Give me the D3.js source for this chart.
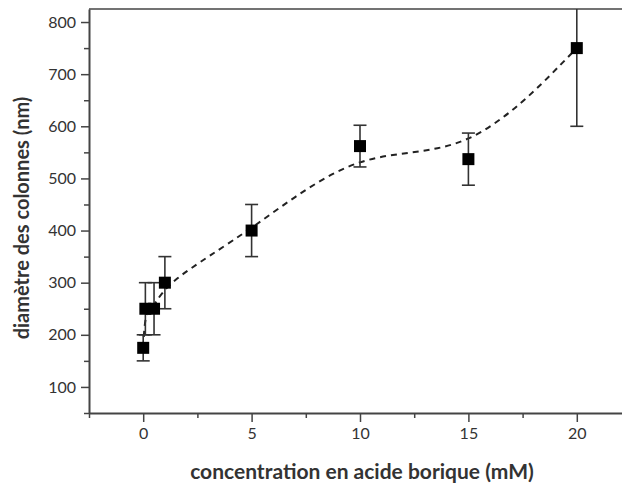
<!DOCTYPE html>
<html>
<head>
<meta charset="utf-8">
<script src="https://cdn.jsdelivr.net/npm/d3@7"></script>
<style>
  body { margin: 0; background: #fff; }
  text { font-family: Lato, "Open Sans", sans-serif; fill: #333; }
</style>
</head>
<body>
<svg id="chart" width="622" height="484"></svg>
<script>
// boric acid concentration (mM) vs column diameter (nm)
var concentrations = [0, 0.1, 0.5, 1, 5, 10, 15, 20];
var diameters = [175, 250, 250, 300, 400, 562, 537, 750];
var errors = [25, 50, 50, 50, 50, 40, 50, 150];
var xTicks = [0, 5, 10, 15, 20];
var yTicks = [100, 200, 300, 400, 500, 600, 700, 800];

var svg = d3.select("#chart");
var mLeft = 89, mRight = 631, mTop = 9, mBottom = 413;

var x = d3.scaleLinear().domain([-2.5, 22.5]).range([mLeft, mRight]);
var y = d3.scaleLinear().domain([50, 825]).range([mBottom, mTop]);

var points = concentrations.map(function(c, i) {
  return { x: c, y: diameters[i], e: errors[i] };
});

// frame top line
svg.append("line")
  .attr("x1", mLeft).attr("x2", mRight)
  .attr("y1", mTop).attr("y2", mTop)
  .attr("stroke", "#444").attr("stroke-width", 1.5);

// minor ticks
var xMinor = d3.range(-2.5, 23, 2.5).filter(function(v) { return xTicks.indexOf(v) < 0; });
var yMinor = d3.range(50, 826, 50).filter(function(v) { return yTicks.indexOf(v) < 0; });

svg.append("g").attr("transform", "translate(0," + mBottom + ")")
  .call(d3.axisBottom(x).tickValues(xMinor).tickSize(5).tickFormat(""))
  .call(function(g) { g.select(".domain").remove(); })
  .selectAll("line").attr("stroke", "#444").attr("stroke-width", 1.5);

svg.append("g").attr("transform", "translate(" + mLeft + ",0)")
  .call(d3.axisLeft(y).tickValues(yMinor).tickSize(5).tickFormat(""))
  .call(function(g) { g.select(".domain").remove(); })
  .selectAll("line").attr("stroke", "#444").attr("stroke-width", 1.5);

// major axes
var xAxis = svg.append("g").attr("transform", "translate(0," + mBottom + ")")
  .call(d3.axisBottom(x).tickValues(xTicks).tickSize(9).tickSizeOuter(0).tickPadding(6));
var yAxis = svg.append("g").attr("transform", "translate(" + mLeft + ",0)")
  .call(d3.axisLeft(y).tickValues(yTicks).tickSize(8).tickSizeOuter(0).tickPadding(5));

[xAxis, yAxis].forEach(function(g) {
  g.select(".domain").attr("stroke", "#444").attr("stroke-width", 2);
  g.selectAll(".tick line").attr("stroke", "#444").attr("stroke-width", 1.5);
  g.selectAll(".tick text").style("font-size", "16px").attr("fill", "#333");
});

// plotting area clip
svg.append("clipPath").attr("id", "clip")
  .append("rect").attr("x", mLeft).attr("y", mTop).attr("width", mRight - mLeft).attr("height", mBottom - mTop);
var plot = svg.append("g").attr("clip-path", "url(#clip)");

// B-spline through the points, dashed
var line = d3.line()
  .x(function(d) { return x(d.x); })
  .y(function(d) { return y(d.y); })
  .curve(d3.curveBasis);

plot.append("path")
  .datum(points)
  .attr("d", line)
  .attr("fill", "none")
  .attr("stroke", "#222")
  .attr("stroke-width", 2)
  .attr("stroke-dasharray", "6,5");

// error bars
var bars = plot.selectAll(".err").data(points).enter().append("g").attr("class", "err")
  .attr("stroke", "#333").attr("stroke-width", 1.6);
bars.append("line")
  .attr("x1", function(d) { return x(d.x); }).attr("x2", function(d) { return x(d.x); })
  .attr("y1", function(d) { return y(d.y - d.e); }).attr("y2", function(d) { return y(d.y + d.e); });
bars.append("line")
  .attr("x1", function(d) { return x(d.x) - 6.5; }).attr("x2", function(d) { return x(d.x) + 6.5; })
  .attr("y1", function(d) { return y(d.y - d.e); }).attr("y2", function(d) { return y(d.y - d.e); });
bars.append("line")
  .attr("x1", function(d) { return x(d.x) - 6.5; }).attr("x2", function(d) { return x(d.x) + 6.5; })
  .attr("y1", function(d) { return y(d.y + d.e); }).attr("y2", function(d) { return y(d.y + d.e); });

// square markers
plot.selectAll(".pt").data(points).enter().append("rect").attr("class", "pt")
  .attr("x", function(d) { return x(d.x) - 6; })
  .attr("y", function(d) { return y(d.y) - 6; })
  .attr("width", 12).attr("height", 12)
  .attr("fill", "#000");

// axis titles
svg.append("text")
  .attr("x", 362).attr("y", 479)
  .attr("text-anchor", "middle")
  .style("font-size", "21px").style("font-weight", "bold").attr("fill", "#111")
  .text("concentration en acide borique (mM)");

svg.append("text")
  .attr("transform", "translate(29,218) rotate(-90)")
  .attr("text-anchor", "middle")
  .style("font-size", "20px").style("font-weight", "bold").attr("fill", "#111")
  .text("diamètre des colonnes (nm)");
</script>
</body>
</html>
